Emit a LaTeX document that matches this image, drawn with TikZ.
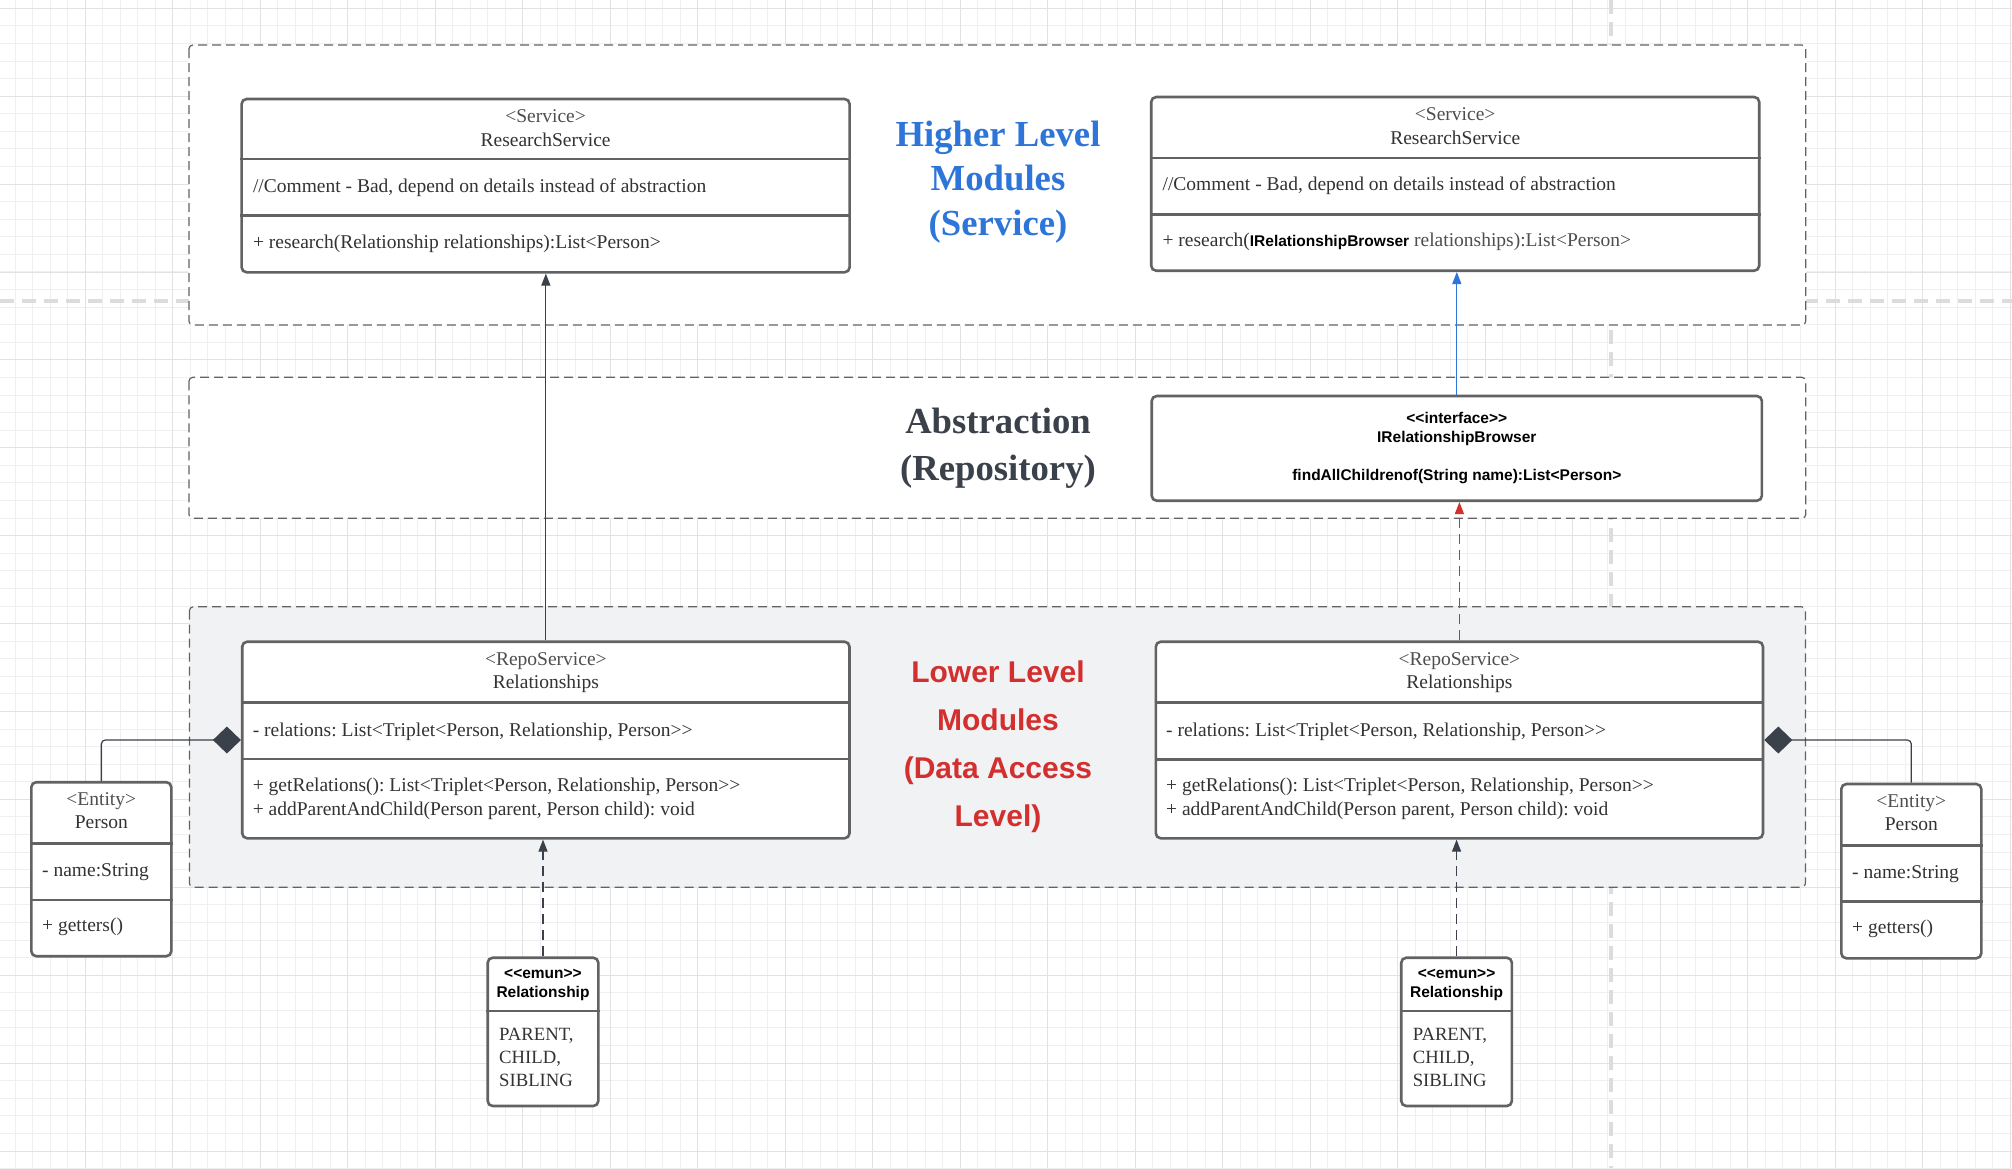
\documentclass[tikz,border=0pt]{standalone}
\usepackage{fontspec}
\setmainfont{Liberation Serif}
\setsansfont{Liberation Sans}
\usepackage{xcolor}
\definecolor{boxgray}{HTML}{626262}
\definecolor{txtgray}{HTML}{333333}
\definecolor{stereogray}{HTML}{4E4E4E}
\definecolor{slate}{HTML}{3A414A}
\definecolor{hiblue}{HTML}{2E75D9}
\definecolor{lored}{HTML}{D32F2F}
\definecolor{lofill}{HTML}{F1F2F4}
\definecolor{gridminor}{HTML}{EFEFEF}
\definecolor{gridmajor}{HTML}{E2E2E2}
\definecolor{pagebreak}{HTML}{DCDCDC}
\usepackage{tikz}
\usetikzlibrary{arrows.meta, positioning, calc}
\frenchspacing

\begin{document}
\begin{tikzpicture}[x=1pt, y=-1pt,
    classbox/.style={draw=boxgray, line width=2.6pt, rounded corners=5pt, fill=white, inner sep=0pt},
    divider/.style={draw=boxgray, line width=2.6pt},
    layer/.style={draw=boxgray, line width=1.2pt, dash pattern=on 9pt off 5pt, rounded corners=4pt},
    txt/.style={font=\fontsize{19.5}{23.5}\selectfont, text=txtgray, inner sep=0pt},
    boldsans/.style={font=\sffamily\bfseries\fontsize{15.5}{19}\selectfont, text=black, inner sep=0pt},
    link/.style={draw=slate, line width=1.2pt, -{Triangle[length=12pt,width=9pt]}},
    comp/.style={draw=slate, line width=1.2pt, -{Diamond[length=28pt,width=27pt]}}]
        % Canvas and grid
        \fill[white] (0,0) rectangle (2012,1168);
        \useasboundingbox (0,0) rectangle (2012,1168);
        \foreach \i in {0,...,115}
          \draw[gridminor, line width=1pt] ({-2.5+17.5*\i},0) -- ({-2.5+17.5*\i},1168);
        \foreach \j in {0,...,67}
          \draw[gridminor, line width=1pt] (0,{-9.3+17.58*\j}) -- (2012,{-9.3+17.58*\j});
        \foreach \i in {0,...,23}
          \draw[gridmajor, line width=1pt] ({-2.5+87.5*\i},0) -- ({-2.5+87.5*\i},1168);
        \foreach \j in {0,...,13}
          \draw[gridmajor, line width=1pt] (0,{8.3+87.9*\j}) -- (2012,{8.3+87.9*\j});
        \draw[pagebreak, line width=4pt, dash pattern=on 14pt off 8pt]
          (1611,0) -- (1611,1168);
        \draw[pagebreak, line width=4pt, dash pattern=on 14pt off 8pt]
          (0,301) -- (2012,301);
        % Layers
        \draw[layer, fill=white] (188.9,45) rectangle (1805.8,325);
        \draw[layer, fill=white] (188.9,377.3) rectangle (1805.8,518.3);
        \draw[layer, fill=lofill] (189.4,606.7) rectangle (1805.5,887.3);
        \node[font=\bfseries\fontsize{36.7}{44.2}\selectfont, text=hiblue, align=center,
          anchor=base, inner sep=0pt] (hdrHigh) at (998,235.1) {Higher Level\\Modules\\(Service)};
        \node[font=\bfseries\fontsize{36.7}{46.7}\selectfont, text=slate, align=center,
          anchor=base, inner sep=0pt] (hdrAbs) at (998,480) {Abstraction\\(Repository)};
        \node[font=\sffamily\bfseries\fontsize{30}{47.8}\selectfont, text=lored, align=center,
          anchor=base, inner sep=0pt] (hdrLow) at (998,826.1) {Lower Level\\Modules\\(Data Access\\Level)};
        % Service (left)
        \node[classbox, minimum width=608pt, minimum height=173.3pt] (svcL) at (545.6,185.65) {};
        \draw[divider] (svcL.west |- 0,159) -- (svcL.east |- 0,159);
        \draw[divider] (svcL.west |- 0,215.7) -- (svcL.east |- 0,215.7);
        \node[txt, align=center, anchor=base] (svcLhead) at (545.6,146)
          {\textcolor{stereogray}{<Service>}\\ResearchService};
        \node[txt, anchor=base west] (svcLnote) at (252.8,192.5)
          {//Comment - Bad, depend on details instead of abstraction};
        \node[txt, anchor=base west] (svcLop) at (252.8,248.5)
          {+ research(Relationship relationships):List<Person>};
        % Service (right)
        \node[classbox, minimum width=608pt, minimum height=173.7pt] (svcR) at (1455.2,183.85) {};
        \draw[divider] (svcR.west |- 0,158) -- (svcR.east |- 0,158);
        \draw[divider] (svcR.west |- 0,214.3) -- (svcR.east |- 0,214.3);
        \node[txt, align=center, anchor=base] (svcRhead) at (1455.2,144)
          {\textcolor{stereogray}{<Service>}\\ResearchService};
        \node[txt, anchor=base west] (svcRnote) at (1162.4,190.5)
          {//Comment - Bad, depend on details instead of abstraction};
        \node[txt, anchor=base west] (svcRop) at (1162.4,246.7)
          {+ research({\sffamily\bfseries\fontsize{15.5}{19}\selectfont\color{black}IRelationshipBrowser}
           \textcolor{stereogray}{relationships):List<Person>}};
        % Interface
        \node[classbox, minimum width=610.2pt, minimum height=104.7pt] (iface) at (1456.8,448.35) {};
        \node[boldsans, align=center, anchor=base] (ifaceText) at (1456.8,480.5)
          {<{}<interface>{}>\\IRelationshipBrowser\\[18.9pt]findAllChildrenof(String name):List<Person>};
        % RepoService (left)
        \node[classbox, minimum width=607.3pt, minimum height=196.6pt] (repoL) at (545.85,740) {};
        \draw[divider] (repoL.west |- 0,702.3) -- (repoL.east |- 0,702.3);
        \draw[divider] (repoL.west |- 0,759) -- (repoL.east |- 0,759);
        \node[txt, align=center, anchor=base] (repoLhead) at (545.85,688.8)
          {\textcolor{stereogray}{<RepoService>}\\Relationships};
        \node[txt, anchor=base west] (repoLattr) at (252.6,736)
          {- relations: List<Triplet<Person, Relationship, Person>{}>};
        \node[txt, align=left, anchor=base west] (repoLops) at (252.6,815.2)
          {+ getRelations(): List<Triplet<Person, Relationship, Person>{}>\\
           + addParentAndChild(Person parent, Person child): void};
        % RepoService (right)
        \node[classbox, minimum width=607.2pt, minimum height=196.6pt] (repoR) at (1459.4,740) {};
        \draw[divider] (repoR.west |- 0,702.7) -- (repoR.east |- 0,702.7);
        \draw[divider] (repoR.west |- 0,759.3) -- (repoR.east |- 0,759.3);
        \node[txt, align=center, anchor=base] (repoRhead) at (1459.4,688.8)
          {\textcolor{stereogray}{<RepoService>}\\Relationships};
        \node[txt, anchor=base west] (repoRattr) at (1166,736)
          {- relations: List<Triplet<Person, Relationship, Person>{}>};
        \node[txt, align=left, anchor=base west] (repoRops) at (1166,815.2)
          {+ getRelations(): List<Triplet<Person, Relationship, Person>{}>\\
           + addParentAndChild(Person parent, Person child): void};
        % Person (left)
        \node[classbox, minimum width=140pt, minimum height=174pt] (personL) at (101.3,869.2) {};
        \draw[divider] (personL.west |- 0,843.3) -- (personL.east |- 0,843.3);
        \draw[divider] (personL.west |- 0,900) -- (personL.east |- 0,900);
        \node[txt, align=center, anchor=base] (personLhead) at (101.3,828.8)
          {\textcolor{stereogray}{<Entity>}\\Person};
        \node[txt, anchor=base west] (personLattr) at (42,876.7) {- name:String};
        \node[txt, anchor=base west] (personLops) at (42,931) {+ getters()};
        % Person (right)
        \node[classbox, minimum width=140pt, minimum height=174.3pt] (personR) at (1911.3,871.15) {};
        \draw[divider] (personR.west |- 0,845.7) -- (personR.east |- 0,845.7);
        \draw[divider] (personR.west |- 0,901.7) -- (personR.east |- 0,901.7);
        \node[txt, align=center, anchor=base] (personRhead) at (1911.3,830.8)
          {\textcolor{stereogray}{<Entity>}\\Person};
        \node[txt, anchor=base west] (personRattr) at (1852,878.7) {- name:String};
        \node[txt, anchor=base west] (personRops) at (1852,933.3) {+ getters()};
        % Enum (left)
        \node[classbox, minimum width=110.6pt, minimum height=148.3pt] (enumL) at (543,1031.85) {};
        \draw[divider] (enumL.west |- 0,1011) -- (enumL.east |- 0,1011);
        \node[boldsans, align=center, anchor=base] (enumLhead) at (543,997.3)
          {<{}<emun>{}>\\Relationship};
        \node[txt, font=\fontsize{18.7}{23.3}\selectfont, align=left, anchor=base west]
          (enumLvals) at (499,1086.6) {PARENT,\\CHILD,\\SIBLING};
        % Enum (right)
        \node[classbox, minimum width=110.6pt, minimum height=148.3pt] (enumR) at (1456.55,1031.85) {};
        \draw[divider] (enumR.west |- 0,1011) -- (enumR.east |- 0,1011);
        \node[boldsans, align=center, anchor=base] (enumRhead) at (1456.55,997.3)
          {<{}<emun>{}>\\Relationship};
        \node[txt, font=\fontsize{18.7}{23.3}\selectfont, align=left, anchor=base west]
          (enumRvals) at (1412.6,1086.6) {PARENT,\\CHILD,\\SIBLING};
        % Dependencies
        \draw[link] (repoL.north) -- (repoL.north |- svcL.south);
        \draw[link, draw=hiblue] (iface.north) -- (iface.north |- svcR.south);
        \draw[link, draw=lored, dash pattern=on 10pt off 6pt]
          (repoR.north) -- (repoR.north |- iface.south);
        \draw[link, dash pattern=on 10pt off 6pt] (enumL.north) -- (enumL.north |- repoL.south);
        \draw[link, dash pattern=on 10pt off 6pt] (enumR.north) -- (enumR.north |- repoR.south);
        % Composition
        \draw[comp, rounded corners=4pt] (personL.north) |- (repoL.west);
        \draw[comp, rounded corners=4pt] (personR.north) |- (repoR.east);
      \end{tikzpicture}
\end{document}
